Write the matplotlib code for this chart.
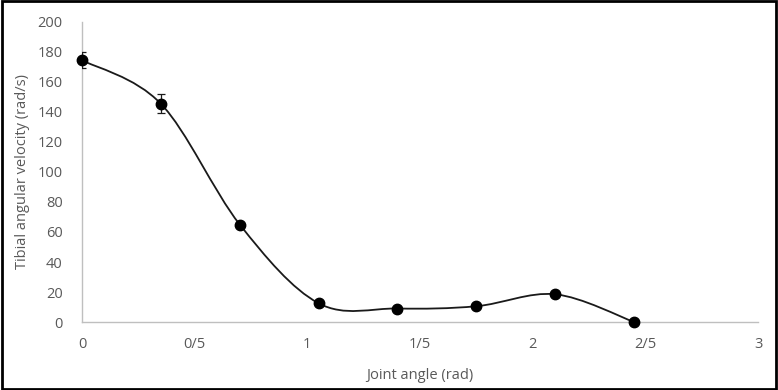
import matplotlib
matplotlib.use("Agg")
import matplotlib.pyplot as plt
from matplotlib.path import Path
from matplotlib.patches import PathPatch, Rectangle
import numpy as np

angles = [0.0, 0.35, 0.70, 1.05, 1.40, 1.75, 2.10, 2.45]
velocity = [174.5, 145.5, 65.0, 12.5, 9.0, 10.5, 18.5, 0.0]
errors = [5.5, 6.5, 0, 0, 0, 0, 0, 0]
xtick_vals = [0, 0.5, 1, 1.5, 2, 2.5, 3]
xtick_labels = ["0", "0/5", "1", "1/5", "2", "2/5", "3"]
ytick_vals = [0, 20, 40, 60, 80, 100, 120, 140, 160, 180, 200]

plt.rcParams['font.family'] = ['Open Sans', 'DejaVu Sans']
gray = "#595959"

fig = plt.figure(figsize=(7.78, 3.9), dpi=100)
ax = fig.add_axes([82/778, 1-322/390, (758-82)/778, 300/390])

# smoothed line (Catmull-Rom as Bezier, like Excel smoothing)
pts = np.column_stack([angles, velocity])
verts = [tuple(pts[0])]
codes = [Path.MOVETO]
n = len(pts)
for i in range(n-1):
    p0 = pts[i-1] if i > 0 else pts[i]
    p1 = pts[i]
    p2 = pts[i+1]
    p3 = pts[i+2] if i+2 < n else pts[i+1]
    c1 = p1 + (p2 - p0)/6
    c2 = p2 - (p3 - p1)/6
    verts += [tuple(c1), tuple(c2), tuple(p2)]
    codes += [Path.CURVE4]*3
ax.add_patch(PathPatch(Path(verts, codes), facecolor='none', edgecolor='#1a1a1a', lw=1.3, zorder=2))

ex = [a for a, e in zip(angles, errors) if e > 0]
ey = [v for v, e in zip(velocity, errors) if e > 0]
ee = [e for e in errors if e > 0]
ax.errorbar(ex, ey, yerr=ee, fmt='none', ecolor='#1a1a1a', elinewidth=0.9, capsize=3, capthick=0.9, zorder=3)
ax.plot(angles, velocity, 'o', color='black', markersize=7.5, zorder=4, clip_on=False)

ax.set_xlim(0, 3)
ax.set_ylim(0, 200)
for s in ['top', 'right']:
    ax.spines[s].set_visible(False)
for s in ['left', 'bottom']:
    ax.spines[s].set_color('#bfbfbf')
    ax.spines[s].set_linewidth(1)
ax.set_xticks(xtick_vals)
ax.set_xticklabels(xtick_labels)
ax.set_yticks(ytick_vals)
ax.tick_params(axis='both', length=0, colors=gray, labelsize=10.5)
ax.tick_params(axis='x', pad=11)
ax.tick_params(axis='y', pad=14)
ax.set_xlabel("Joint angle (rad)", color=gray, fontsize=10.5, labelpad=11)
ax.set_ylabel("Tibial angular velocity (rad/s)", color=gray, fontsize=10.5, labelpad=5)

fig.patches.append(Rectangle((0.002, 0.003), 0.996, 0.994, transform=fig.transFigure,
                             fill=False, edgecolor='black', lw=2))
fig.savefig("out.png", dpi=100)
